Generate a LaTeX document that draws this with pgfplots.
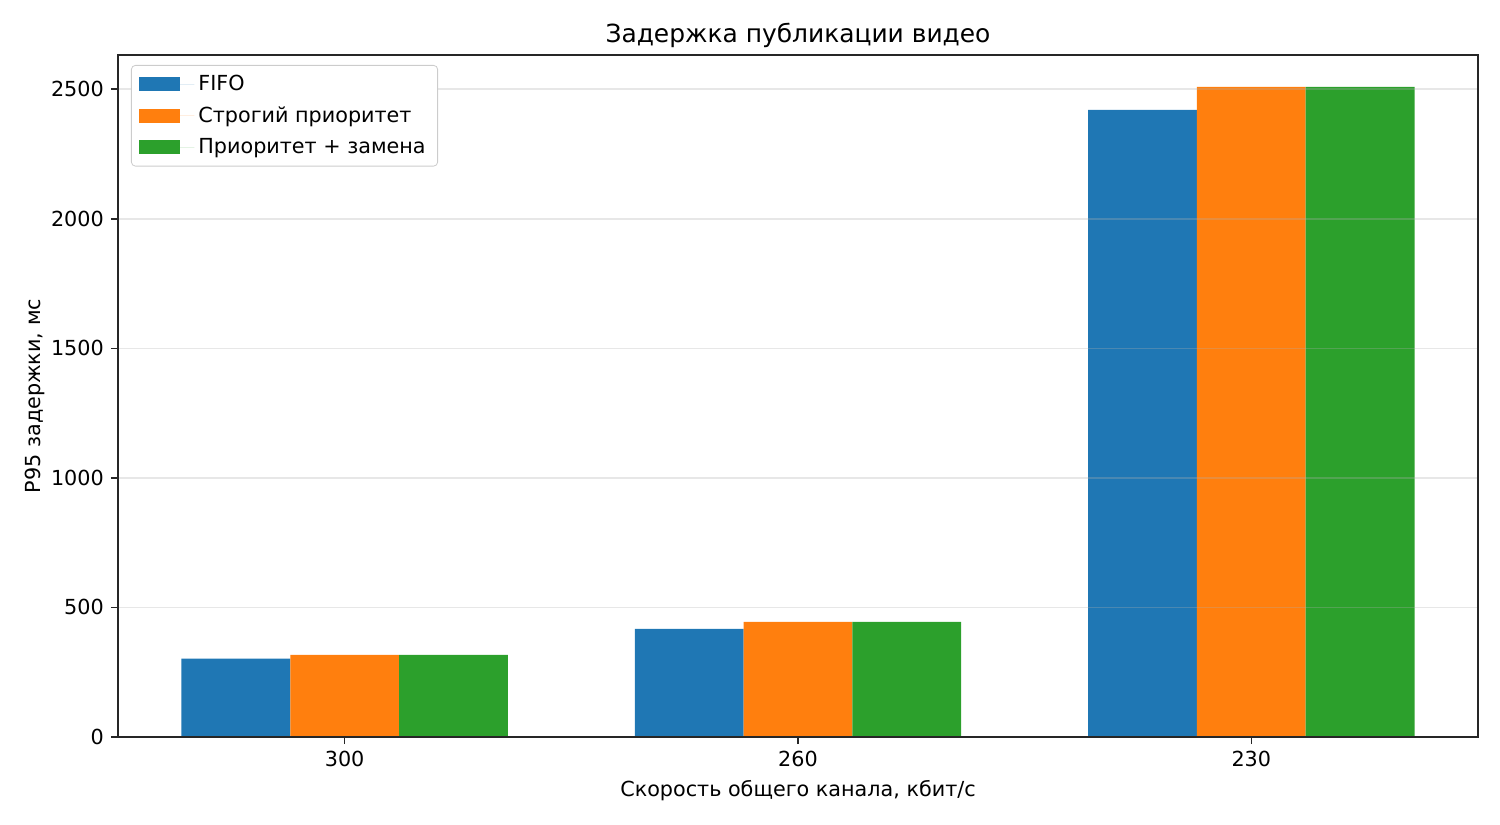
\documentclass[border=0pt]{standalone}
\usepackage{pgfplots}
\pgfplotsset{compat=1.18}
\usepackage{fontspec}
\setmainfont{DejaVu Sans}
\definecolor{tabblue}{HTML}{1F77B4}
\definecolor{taborange}{HTML}{FF7F0E}
\definecolor{tabgreen}{HTML}{2CA02C}
\definecolor{axc}{HTML}{262626}
\begin{document}
\begin{tikzpicture}
\begin{axis}[
  scale only axis,
  width=680bp, height=341bp,
  xmin=-0.5, xmax=2.5,
  ymin=0, ymax=2632,
  xtick={0,1,2},
  xticklabels={300,260,230},
  ytick={0,500,1000,1500,2000,2500},
  /pgf/number format/1000 sep={},
  /pgf/number format/assume math mode=true,
  ticklabel style={font=\fontsize{10.4}{12}\selectfont, text=black},
  tick style={axc, line width=0.8bp},
  major tick length=3.6bp,
  tick align=outside,
  xtick pos=bottom, ytick pos=left,
  axis line style={axc, line width=0.8bp},
  ymajorgrids,
  grid style={draw={rgb,255:red,176;green,176;blue,176}, opacity=0.3, line width=0.8bp},
  axis on top,
  ybar, bar width=0.24,
  xlabel={Скорость общего канала, кбит/с},
  ylabel={P95 задержки, мс},
  label style={font=\fontsize{10.4}{12}\selectfont},
  ylabel style={yshift=-3.5bp},
  title={Задержка публикации видео},
  title style={font=\fontsize{12.5}{14}\selectfont, yshift=-6bp},
  legend style={at={(0,1)}, anchor=north west, xshift=6.5bp, yshift=-5bp,
    draw={rgb,255:red,204;green,204;blue,204}, rounded corners=2bp,
    font=\fontsize{10.4}{12}\selectfont, row sep=2.6bp,
    inner xsep=4bp, inner ysep=2.8bp},
  legend cell align=left,
  legend image code/.code={\fill[#1, sharp corners] (0bp,-3.5bp) rectangle (20.5bp,3.5bp); \path (0bp,0bp) -- (27.5bp,0bp);},
]
\addplot[fill=tabblue, draw=none, bar shift=-0.24] coordinates {(0,302) (1,417) (2,2420)};
\addplot[fill=taborange, draw=none, bar shift=0] coordinates {(0,317) (1,444) (2,2509)};
\addplot[fill=tabgreen, draw=none, bar shift=0.24] coordinates {(0,317) (1,444) (2,2509)};
\legend{FIFO, Строгий приоритет, Приоритет + замена}
\end{axis}
\useasboundingbox ([xshift=-59bp,yshift=-44bp]current axis.south west) rectangle ([xshift=11bp,yshift=27.5bp]current axis.north east);
\end{tikzpicture}
\end{document}
